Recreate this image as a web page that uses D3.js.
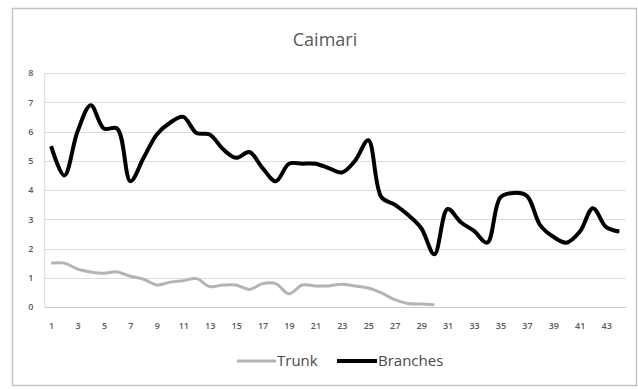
<!DOCTYPE html>
<html><head><meta charset="utf-8">
<script src="https://cdn.jsdelivr.net/npm/d3@7"></script>
<style>body{margin:0;background:#fff}svg{display:block}</style>
</head><body>
<script>
const categories = d3.range(1, 45);
const trunk = [1.5,1.5,1.3,1.2,1.15,1.2,1.05,0.95,0.75,0.85,0.9,0.97,0.7,0.75,0.75,0.6,0.8,0.8,0.45,0.75,0.72,0.72,0.78,0.72,0.65,0.48,0.25,0.12,0.1,0.08];
const branches = [5.5,4.5,6.0,6.9,6.1,6.1,4.3,5.1,5.9,6.3,6.5,5.95,5.9,5.4,5.1,5.3,4.75,4.3,4.9,4.9,4.9,4.75,4.6,5.0,5.7,3.75,3.5,3.15,2.7,1.8,3.35,2.9,2.6,2.2,3.75,3.9,3.8,2.8,2.4,2.2,2.57,3.38,2.73,2.58];
const yTicks = [0,1,2,3,4,5,6,7,8];
const xTickLabels = categories.filter(c => c % 2 === 1);
const title = "Caimari";
const seriesNames = ["Trunk", "Branches"];

(function () {
const W = 638, H = 389;
const svg = d3.select("body").append("svg").attr("width", W).attr("height", H);
svg.append("rect").attr("x", 12.5).attr("y", 8.5).attr("width", 624).attr("height", 377)
  .attr("fill", "#fff").attr("stroke", "#c4c4c4").attr("stroke-width", 1.5);

const pL = 44.5, pR = 626, pT = 73, pB = 307;
const x = d3.scalePoint().domain(categories).range([pL, pR]).padding(0.5);
const y = d3.scaleLinear().domain([0, 8]).range([pB, pT]);

svg.append("g").selectAll("line").data(yTicks).join("line")
  .attr("x1", pL).attr("x2", pR)
  .attr("y1", d => Math.round(y(d)) + 0.5).attr("y2", d => Math.round(y(d)) + 0.5)
  .attr("stroke", d => d === 0 ? "#c8c8c8" : "#dcdcdc").attr("stroke-width", 1.2);
svg.append("line").attr("x1", pL).attr("x2", pL).attr("y1", pT).attr("y2", pB)
  .attr("stroke", "#e0e0e0").attr("stroke-width", 1.2);

const yAxis = d3.axisLeft(y).tickValues(yTicks).tickSize(0).tickPadding(0).tickFormat(d3.format("d"));
const gy = svg.append("g").attr("transform", `translate(${pL - 11},0)`).call(yAxis);
gy.select(".domain").remove();
gy.selectAll("text").attr("fill", "#595959").attr("font-size", 9).attr("font-family", "Open Sans, sans-serif").attr("font-weight", 600);

const xAxis = d3.axisBottom(x).tickValues(xTickLabels).tickSize(0).tickPadding(0);
const gx = svg.append("g").attr("transform", `translate(0,${pB + 16})`).call(xAxis);
gx.select(".domain").remove();
gx.selectAll("text").attr("fill", "#595959").attr("font-size", 9).attr("font-family", "Open Sans, sans-serif").attr("font-weight", 600);

const line = d3.line().defined(d => d[1] != null)
  .x(d => x(d[0])).y(d => y(d[1])).curve(d3.curveCatmullRom.alpha(0.5));
svg.append("path").datum(trunk.map((v, i) => [categories[i], v]))
  .attr("d", line).attr("fill", "none").attr("stroke", "#b4b4b4").attr("stroke-width", 3).attr("stroke-linejoin", "round");
svg.append("path").datum(branches.map((v, i) => [categories[i], v]))
  .attr("d", line).attr("fill", "none").attr("stroke", "#000").attr("stroke-width", 4).attr("stroke-linejoin", "round");

svg.append("text").attr("x", 325).attr("y", 46).attr("text-anchor", "middle")
  .attr("font-family", "Open Sans, sans-serif").attr("font-size", 18).attr("fill", "#595959").text(title);

const lg = svg.append("g").attr("font-family", "Open Sans, sans-serif").attr("font-size", 15).attr("fill", "#4a4a4a");
lg.append("line").attr("x1", 237).attr("x2", 276).attr("y1", 361).attr("y2", 361).attr("stroke", "#b4b4b4").attr("stroke-width", 3);
lg.append("text").attr("x", 277).attr("y", 366).text(seriesNames[0]);
lg.append("line").attr("x1", 337).attr("x2", 377).attr("y1", 361).attr("y2", 361).attr("stroke", "#000").attr("stroke-width", 4);
lg.append("text").attr("x", 378).attr("y", 366).text(seriesNames[1]);
})();
</script>
</body></html>
